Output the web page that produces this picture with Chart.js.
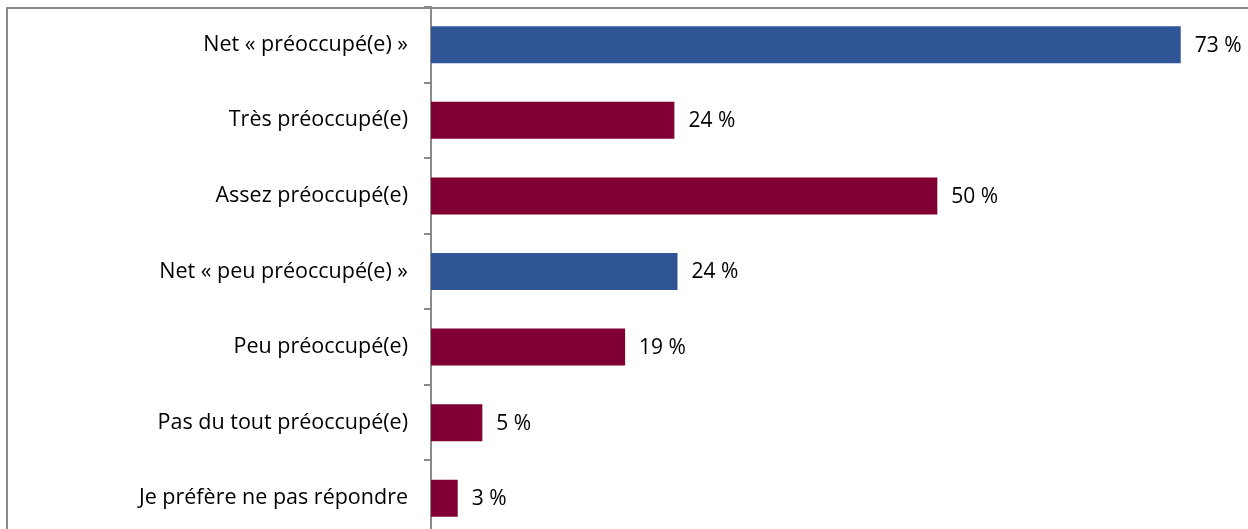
<!DOCTYPE html>
<html>
<head>
<meta charset="utf-8">
<script src="https://cdn.jsdelivr.net/npm/chart.js@4"></script>
<style>
  html, body { margin: 0; padding: 0; background: #fff; overflow: hidden; }
  #wrap { position: absolute; left: 0; top: 0; width: 1248px; height: 537px; }
  #frame { position: absolute; left: 6px; top: 7px; width: 1400px; height: 700px;
           border-top: 2px solid #8a8a8a; border-left: 2px solid #8a8a8a; pointer-events: none; }
</style>
</head>
<body>
<div id="frame"></div>
<div id="wrap"><canvas id="chart"></canvas></div>
<script>
const categories = [
  'Net « préoccupé(e) »',
  'Très préoccupé(e)',
  'Assez préoccupé(e)',
  'Net « peu préoccupé(e) »',
  'Peu préoccupé(e)',
  'Pas du tout préoccupé(e)',
  'Je préfère ne pas répondre'
];
const values = [73.0, 23.7, 49.3, 24.0, 18.9, 5.0, 2.6];
const valueLabels = ['73 %', '24 %', '50 %', '24 %', '19 %', '5 %', '3 %'];
const isNet = [true, false, false, true, false, false, false];

const BLUE = '#2f5597';
const MAROON = '#800034';
const FONT = '"Open Sans", sans-serif';

const valueLabelPlugin = {
  id: 'valueLabels',
  afterDatasetsDraw(chart) {
    const ctx = chart.ctx;
    const meta = chart.getDatasetMeta(0);
    ctx.save();
    ctx.font = '21px ' + FONT;
    ctx.fillStyle = '#000';
    ctx.textBaseline = 'middle';
    ctx.textAlign = 'left';
    meta.data.forEach((bar, i) => {
      ctx.fillText(valueLabels[i], bar.x + 14, bar.y + 1);
    });
    ctx.restore();
  }
};

new Chart(document.getElementById('chart'), {
  type: 'bar',
  data: {
    labels: categories,
    datasets: [{
      data: values,
      backgroundColor: isNet.map(n => n ? BLUE : MAROON),
      borderWidth: 0,
      barPercentage: 0.49,
      categoryPercentage: 1
    }]
  },
  options: {
    indexAxis: 'y',
    responsive: true,
    maintainAspectRatio: false,
    animation: false,
    layout: { padding: { top: 7, bottom: 1, left: 0, right: 0 } },
    plugins: { legend: { display: false }, tooltip: { enabled: false } },
    scales: {
      x: { display: false, min: 0, max: 79.55 },
      y: {
        afterFit(scale) {
          scale.width = 431;
          scale.paddingTop = 0;
          scale.paddingBottom = 0;
        },
        grid: { drawOnChartArea: false, drawTicks: true, tickLength: 7, color: '#8a8a8a', lineWidth: 2 },
        border: { display: true, color: '#8a8a8a', width: 2 },
        ticks: { color: '#000', padding: 16, font: { family: FONT, size: 21.5 } }
      }
    }
  },
  plugins: [valueLabelPlugin]
});
</script>
</body>
</html>
